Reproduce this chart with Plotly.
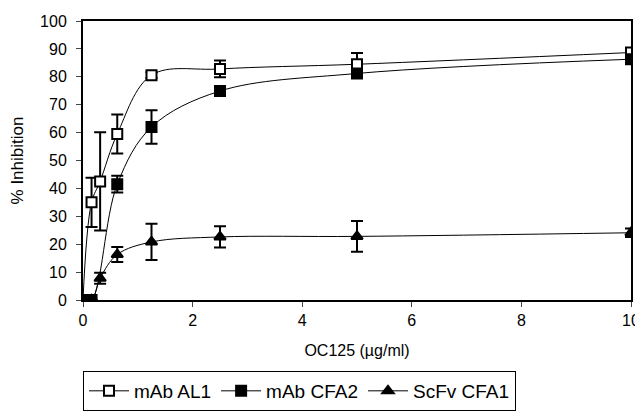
import plotly.graph_objects as go

conc_al1 = [0, 0.156, 0.3125, 0.625, 1.25, 2.5, 5, 10]
al1 = [0, 35, 42.5, 59.5, 80.6, 82.8, 84.5, 88.7]
al1_err = [0, 8.8, 17.6, 7, 1, 3, 4, 1]

conc_cfa2 = [0, 0.156, 0.625, 1.25, 2.5, 5, 10]
cfa2 = [0, 0, 41.5, 62, 74.9, 81.2, 86.3]
cfa2_err = [0, 0, 3, 6, 1, 1, 1]

conc_scfv = [0, 0.156, 0.3125, 0.625, 1.25, 2.5, 5, 10]
scfv = [0, 0, 7.8, 16.3, 20.8, 22.6, 22.8, 24.1]
scfv_err = [0, 0, 2, 2.7, 6.5, 3.8, 5.5, 1.5]

x_ticks = [0, 2, 4, 6, 8, 10]
y_ticks = list(range(0, 101, 10))

FONT = "Liberation Sans, Arial, sans-serif"

fig = go.Figure()

def add(name, x, y, err, symbol, fill):
    fig.add_trace(go.Scatter(
        x=x, y=y, name=name, mode="lines+markers",
        line=dict(color="black", width=1, shape="spline", smoothing=1),
        marker=dict(symbol=symbol, size=10, color=fill,
                    line=dict(color="black", width=2)),
        error_y=dict(type="data", array=err, visible=True, color="black", thickness=2, width=6),
    ))

add("mAb AL1", conc_al1, al1, al1_err, "square", "white")
add("mAb CFA2", conc_cfa2, cfa2, cfa2_err, "square", "black")
add("ScFv CFA1", conc_scfv, scfv, scfv_err, "triangle-up", "black")

# page body has an 8px margin, so the figure is drawn 8px in from the top-left
fig.update_layout(
    width=635, height=406,
    margin=dict(l=75, r=12, t=13, b=114),
    paper_bgcolor="white", plot_bgcolor="white",
    font=dict(family=FONT, size=16, color="black"),
    showlegend=True,
    legend=dict(orientation="h", x=0, xanchor="left", xref="paper",
                y=0.106, yanchor="top", yref="container",
                bordercolor="black", borderwidth=1, font=dict(size=19),
                itemwidth=40, tracegroupgap=0),
    xaxis=dict(range=[0, 10], tickvals=x_ticks, ticks="outside", ticklen=5, tickwidth=1,
               showline=True, linecolor="black", linewidth=2, mirror=True, showgrid=False,
               zeroline=False, automargin=False, ticklabelstandoff=0,
               title=dict(text="OC125 (µg/ml)", standoff=17, font=dict(size=16))),
    yaxis=dict(range=[0, 100], tickvals=y_ticks, ticks="outside", ticklen=5, tickwidth=1,
               showline=True, linecolor="black", linewidth=2, mirror=True, showgrid=False,
               zeroline=False, automargin=False, ticklabelstandoff=6,
               title=dict(text="% Inhibition", standoff=14, font=dict(size=17))),
)

fig.write_html("out.html")
